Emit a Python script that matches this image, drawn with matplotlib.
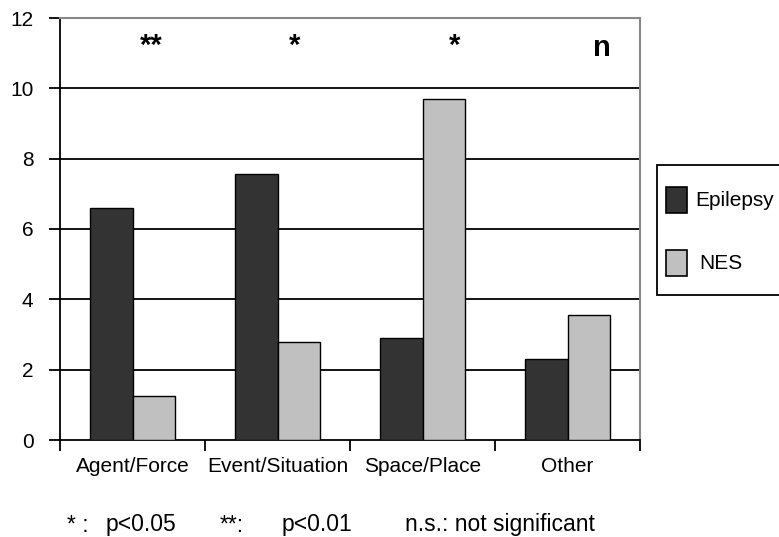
import numpy as np
import matplotlib
matplotlib.use('Agg')
import matplotlib.pyplot as plt
from matplotlib.patches import Rectangle

plt.rcParams['font.family'] = ['Liberation Sans', 'DejaVu Sans']

categories = ['Agent/Force', 'Event/Situation', 'Space/Place', 'Other']
epilepsy = [6.6, 7.55, 2.9, 2.3]
nes = [1.25, 2.78, 9.7, 3.55]
signif = ['**', '*', '*', 'n']
series_names = ['Epilepsy', 'NES']
colors = ['#333333', '#c0c0c0']
yticks = [0, 2, 4, 6, 8, 10, 12]

W, H = 779, 537
fig = plt.figure(figsize=(W/100, H/100), dpi=100)
ax = fig.add_axes([60/W, 97/H, 580/W, 422/H])

x = np.arange(len(categories)) + 0.5
w = 0.295
ax.bar(x - w/2, epilepsy, w, color=colors[0], edgecolor='black', lw=1, zorder=3)
ax.bar(x + w/2, nes, w, color=colors[1], edgecolor='black', lw=1, zorder=3)

ax.set_xlim(0, 4)
ax.set_ylim(0, 12)
ax.set_yticks(yticks)
for y in yticks[1:-1]:
    ax.axhline(y, color='black', lw=1.3, zorder=1)

ax.spines['top'].set_color('#888888')
ax.spines['right'].set_color('#888888')
ax.spines['top'].set_linewidth(1.5)
ax.spines['right'].set_linewidth(1.5)
ax.spines['left'].set_linewidth(1.3)
ax.spines['bottom'].set_linewidth(1.3)

ax.set_xticks(np.arange(5))
ax.set_xticklabels([])
ax.set_xticks(x, minor=True)
ax.set_xticklabels(categories, minor=True, fontsize=15)
ax.tick_params(axis='x', which='major', length=8, width=1.3, direction='out')
ax.tick_params(axis='x', which='minor', length=0, pad=12)
ax.tick_params(axis='y', length=8, width=1.3, direction='out', labelsize=15, pad=11)

# significance markers
sig_x = [0.63, 1.62, 2.72, 3.74]
for sx, s in zip(sig_x, signif):
    if s == 'n':
        ax.text(sx, 11.15, s, ha='center', va='center', fontsize=21, fontweight='bold')
    else:
        ax.text(sx, 11.2, s, ha='center', va='center', fontsize=21, fontweight='bold')

# legend box (runs off the right edge, as in the original)
fig.patches.append(Rectangle((657/W, 1 - 295/H), 160/W, 130/H, transform=fig.transFigure,
                             facecolor='white', edgecolor='black', lw=1.3, clip_on=False))
for i, (name, c) in enumerate(zip(series_names, colors)):
    top = 187 + i * 63
    fig.patches.append(Rectangle((666/W, 1 - (top + 26)/H), 21/W, 26/H,
                                 transform=fig.transFigure, facecolor=c,
                                 edgecolor='black', lw=1.2))
    fig.text((695 + 4 * i)/W, 1 - (top + 14)/H, name, fontsize=15, va='center')

fy = 1 - 525/H
fig.text(67/W, fy, '* :', fontsize=16.5, va='center')
fig.text(106/W, fy, 'p<0.05', fontsize=16.5, va='center')
fig.text(220/W, fy, '**:', fontsize=16.5, va='center')
fig.text(282/W, fy, 'p<0.01', fontsize=16.5, va='center')
fig.text(405/W, fy, 'n.s.: not significant', fontsize=16.5, va='center')

fig.savefig('out.png', dpi=100)
